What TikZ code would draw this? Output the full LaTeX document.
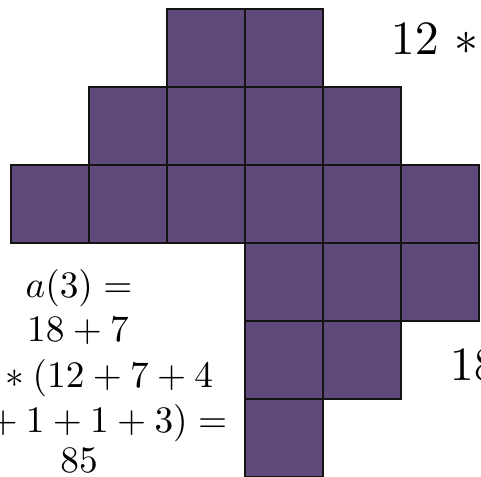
\documentclass[tikz,border=0pt]{standalone}
\definecolor{cellpurple}{HTML}{604A7B}
\definecolor{celledge}{HTML}{141414}
\tikzset{
  cell/.style={fill=cellpurple, draw=celledge, line width=2.4bp},
  bigtxt/.style={inner sep=0pt, scale=3.75},
  hugetxt/.style={inner sep=0pt, scale=4.8}
}
\begin{document}
\begin{tikzpicture}[x=1bp,y=-1bp]
\useasboundingbox (0,0) rectangle (481,477);
\clip (0,0) rectangle (481,477);
\fill[white] (0,0) rectangle (481,477);
% cells (column,row)
\foreach \c/\r in {2/0,3/0,
                   1/1,2/1,3/1,4/1,
                   0/2,1/2,2/2,3/2,4/2,5/2,
                   3/3,4/3,5/3,
                   3/4,4/4,
                   3/5}{
  \draw[cell] ({11+78*\c},{9+78*\r}) rectangle ++(78,78);
}
% left formula
\node[bigtxt, anchor=base] (l1) at (79,297) {$a(3) =$};
\node[bigtxt, anchor=base] (l2) at (78,341) {$18+7$};
\node[bigtxt, anchor=base east] (l3) at (214,387) {${}\ast{}(12+7+4$};
\node[bigtxt, anchor=base east] (l4) at (228,432) {${}+1+1+3) =$};
\node[bigtxt, anchor=base] (l5) at (79,472) {$85$};
% right texts
\node[hugetxt, anchor=base west] (r1) at (390,55) {$12\mskip6mu\ast$};
\node[hugetxt, anchor=base west] (r2) at (449,380) {$18$};
\end{tikzpicture}
\end{document}
